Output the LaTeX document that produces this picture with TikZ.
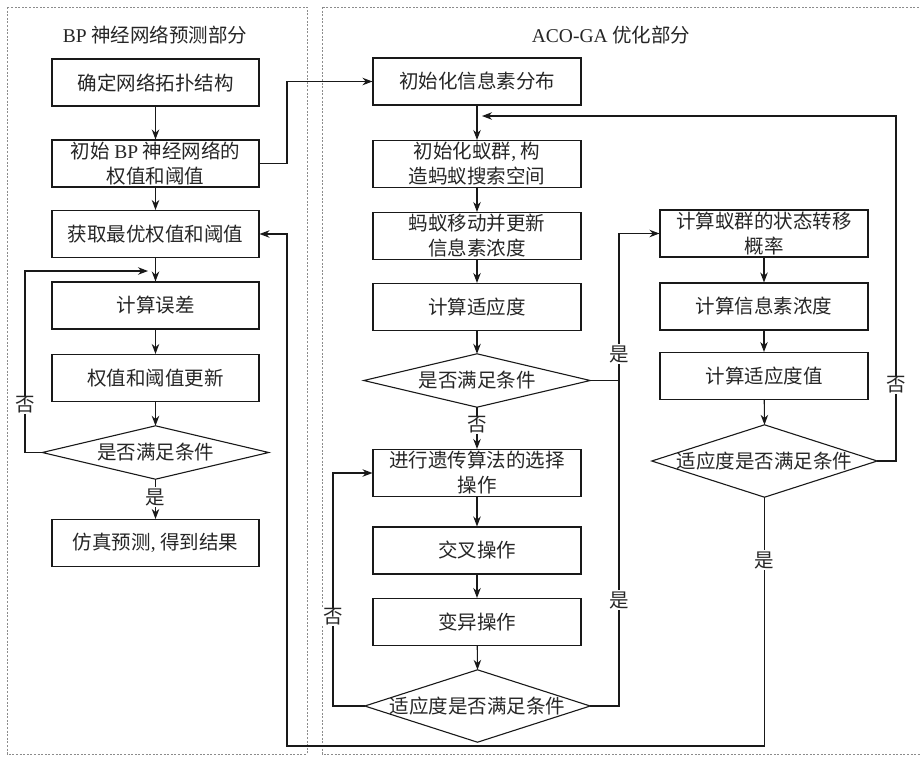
\documentclass[tikz,border=0pt]{standalone}
\usepackage{fontspec}
\setmainfont{Liberation Serif}
\newfontfamily\cjk{Noto Sans CJK SC}
\usetikzlibrary{arrows.meta}
\newcommand\lat[1]{{\rmfamily #1}}
\begin{document}
\begin{tikzpicture}[x=1pt,y=-1pt,
  every node/.style={font=\cjk\fontsize{19.5}{25}\selectfont, text=black!85},
  box/.style={draw=black!90, line width=1.1pt, minimum width=207pt, minimum height=47pt, inner sep=0pt, align=center},
  diabox/.style={inner sep=0pt, align=center},
  diaedge/.style={draw=black!90, line width=1.1pt},
  line/.style={draw=black!90, line width=1.1pt},
  arr/.style={line, -{Stealth[length=10pt,width=7.5pt]}},
  lbl/.style={fill=white, inner sep=1pt},
  frame/.style={draw=black!45, line width=0.8pt, dash pattern=on 2pt off 1.6pt}
]
\useasboundingbox (0,0) rectangle (920,756);
\fill[white] (0,0) rectangle (920,756);
\begin{scope}
\clip (0,0) rectangle (920,756);
\draw[frame] (7,7) rectangle (307,754);
\draw[frame] (322,7) rectangle (930,754);
\end{scope}

% titles
\node (t1) at (155,35) {\lat{BP} 神经网络预测部分};
\node (t2) at (611,35) {\lat{ACO-GA} 优化部分};

% left column
\node[box] (b1) at (155.5,82.5) {确定网络拓扑结构};
\node[box] (b2) at (155.5,163.5) {初始 \lat{BP} 神经网络的\\权值和阈值};
\node[box] (b3) at (155.5,234) {获取最优权值和阈值};
\node[box] (b4) at (155.5,305.5) {计算误差};
\node[box] (b5) at (155.5,378) {权值和阈值更新};
\node[diabox, minimum width=226pt, minimum height=53pt] (d1) at (155.5,452.5) {是否满足条件};
\node[box] (b6) at (155.5,543) {仿真预测\lat{,} 得到结果};

% right column A
\node[box, minimum width=208pt] (r1) at (477,81.5) {初始化信息素分布};
\node[box, minimum width=208pt] (r2) at (477,164) {初始化蚁群\lat{,} 构\\造蚂蚁搜索空间};
\node[box, minimum width=208pt] (r3) at (477,236) {蚂蚁移动并更新\\信息素浓度};
\node[box, minimum width=208pt] (r4) at (477,307) {计算适应度};
\node[diabox, minimum width=226pt, minimum height=53pt] (rd1) at (477,380.5) {是否满足条件};
\node[box, minimum width=208pt] (r5) at (477,473) {进行遗传算法的选择\\操作};
\node[box, minimum width=208pt] (r6) at (477,550.5) {交叉操作};
\node[box, minimum width=208pt] (r7) at (477,622) {变异操作};
\node[diabox, minimum width=225pt, minimum height=72pt] (rd2) at (477.5,706) {适应度是否满足条件};

% right column B
\node[box, minimum width=208pt] (s1) at (764,233.5) {计算蚁群的状态转移\\概率};
\node[box, minimum width=208pt] (s2) at (764,306.5) {计算信息素浓度};
\node[box, minimum width=208pt] (s3) at (764,376) {计算适应度值};
\node[diabox, minimum width=225pt, minimum height=72pt] (sd) at (764.5,461) {适应度是否满足条件};

% diamond outlines
\foreach \d in {d1,rd1,rd2,sd}
  \draw[diaedge] (\d.north) -- (\d.east) -- (\d.south) -- (\d.west) -- cycle;

% junction coordinates
\coordinate (jl) at (148,271);
\coordinate (jr) at (482,116);

% left connectors
\draw[arr] (b1) -- (b2);
\draw[arr] (b2) -- (b3);
\draw[arr] (b3) -- (b4);
\draw[arr] (b4) -- (b5);
\draw[arr] (b5) -- (d1.north);
\draw[arr] (d1.south) -- (b6);
\node[lbl] (ly1) at (155.5,497) {是};
\draw[arr] (d1.west) -- (25,452.5) |- (jl);
\node[lbl] (ln1) at (25,405) {否};

% left to right
\draw[arr] (b2.east) -- (287,163.5) |- (r1.west);

% right A connectors
\draw[arr] (r1) -- (r2);
\draw[arr] (r2) -- (r3);
\draw[arr] (r3) -- (r4);
\draw[arr] (r4) -- (rd1.north);
\draw[arr] (rd1.south) -- (r5);
\node[lbl] (ln2) at (477,425) {否};
\draw[arr] (r5) -- (r6);
\draw[arr] (r6) -- (r7);
\draw[arr] (r7) -- (rd2.north);
\draw[arr] (rd2.west) -- (333,706) |- (r5.west);
\node[lbl] (ln3) at (333,617) {否};
\draw[arr] (rd1.east) -- (619,380.5) |- (s1.west);
\draw[line] (rd2.east) -- (619,706) -- (619,380.5);
\node[lbl] (ly2) at (619,354) {是};
\node[lbl] (ly3) at (619,600) {是};

% right B connectors
\draw[arr] (s1) -- (s2);
\draw[arr] (s2) -- (s3);
\draw[arr] (s3) -- (sd.north);
\draw[arr] (sd.east) -- (896,461) |- (jr);
\node[lbl] (ln4) at (896,385) {否};
\draw[arr] (sd.south) -- (764.5,746) -| (287,234) -- (b3.east);
\node[lbl] (ly4) at (764.5,560) {是};
\end{tikzpicture}
\end{document}
